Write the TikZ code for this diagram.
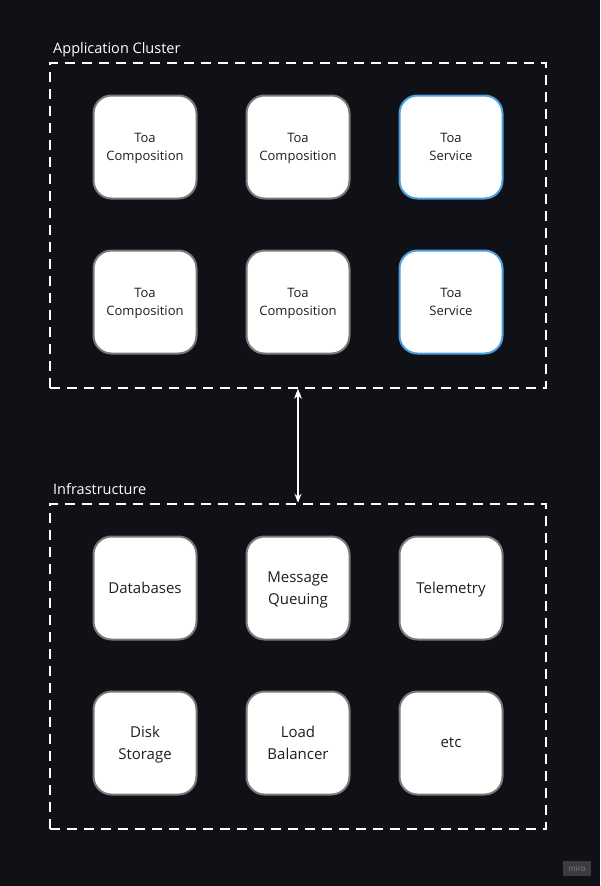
\documentclass[tikz,border=0pt]{standalone}
\usepackage{fontspec}
\setmainfont{Open Sans}
\usepackage{xcolor}
\usepackage{tikz}
\usetikzlibrary{arrows.meta}
\definecolor{bg}{HTML}{0F1117}
\definecolor{edgegray}{HTML}{7A7A7A}
\definecolor{svcblue}{HTML}{4A9FE0}
\definecolor{ink}{HTML}{1E1E1E}
\tikzset{block/.style={fill=white,draw=edgegray,line width=2pt,rounded corners=18pt,align=center,text=ink,inner sep=0pt,text depth=0pt,minimum width=103pt,minimum height=103pt,font=\fontsize{13}{18}\selectfont},
svcblock/.style={block,draw=svcblue},
infblock/.style={block,font=\fontsize{15}{22}\selectfont},
group/.style={draw=white,line width=2.5pt,dash pattern=on 10pt off 7pt,minimum width=496pt,minimum height=325pt,inner sep=0pt},
grouplabel/.style={text=white,anchor=base west,inner sep=0pt,font=\fontsize{14.5}{17}\selectfont}}

\begin{document}
\begin{tikzpicture}[x=1pt,y=-1pt]
\fill[bg] (0,0) rectangle (600,886);
\useasboundingbox (0,0) rectangle (600,886);
\node[grouplabel] (applbl) at (53,53) {Application Cluster};
\node[group] (cluster) at (298,225.5) {};
\node[block](comp1) at (145,147) {Toa\\Composition};
\node[block](comp2) at (298,147) {Toa\\Composition};
\node[svcblock](svc1) at (451,147) {Toa\\Service};
\node[block](comp3) at (145,302) {Toa\\Composition};
\node[block](comp4) at (298,302) {Toa\\Composition};
\node[svcblock](svc2) at (451,302) {Toa\\Service};
\node[grouplabel] (inflbl) at (53,494) {Infrastructure};
\node[group] (infra) at (298,666.5) {};
\node[infblock](db) at (145,588) {Databases};
\node[infblock](mq) at (298,588) {Message\\Queuing};
\node[infblock](tel) at (451,588) {Telemetry};
\node[infblock](disk) at (145,743) {Disk\\Storage};
\node[infblock](lb) at (298,743) {Load\\Balancer};
\node[infblock](etc) at (451,743) {etc};
\path[{Stealth[length=9pt,width=7pt]}-{Stealth[length=9pt,width=7pt]},draw=white,line width=1.5pt] (cluster.south) edge node {} (infra.north);
\node[fill=white!18!bg,text=white!45!bg,inner sep=0pt,minimum width=28pt,minimum height=15pt,font=\fontsize{8}{9}\selectfont] (badge) at (577,868.5) {miro};
\end{tikzpicture}
\end{document}
